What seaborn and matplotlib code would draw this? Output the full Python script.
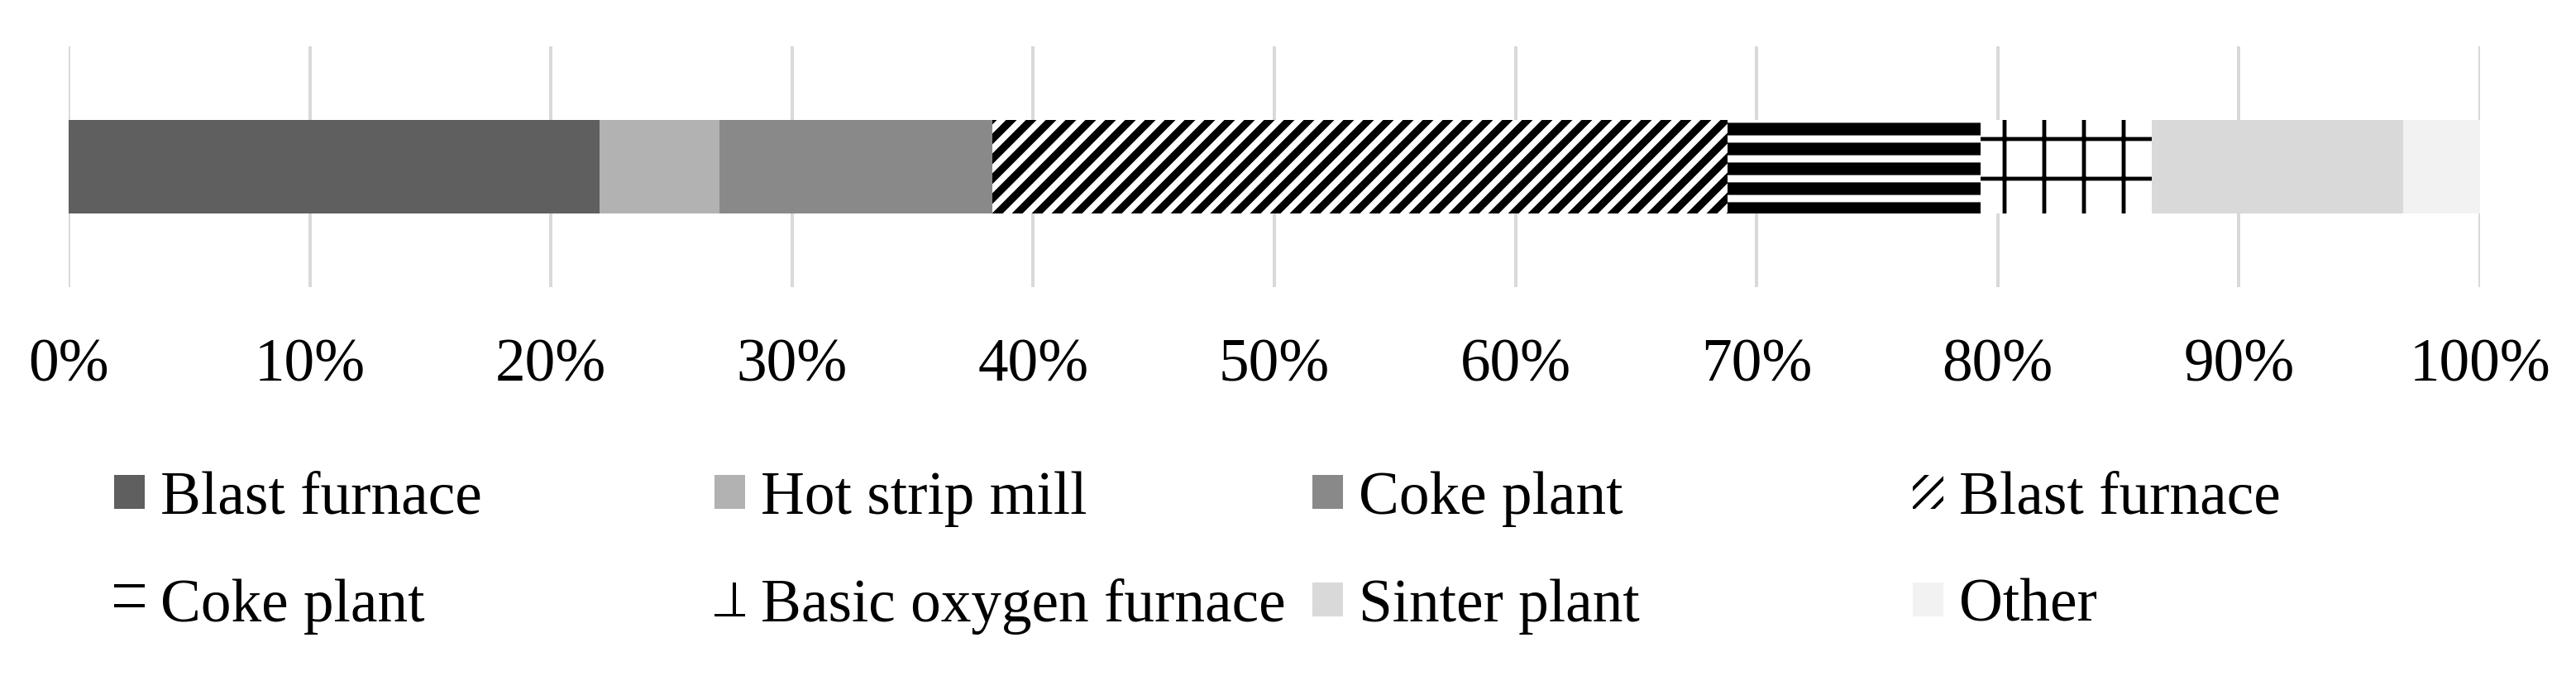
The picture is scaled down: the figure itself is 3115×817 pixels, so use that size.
import pandas as pd
import seaborn as sns
import matplotlib.pyplot as plt
import numpy as np
from matplotlib.patches import Patch

# Share of each source in the total (percent), left to right along the bar
sources = ['Blast furnace', 'Hot strip mill', 'Coke plant', 'Blast furnace',
           'Coke plant', 'Basic oxygen furnace', 'Sinter plant', 'Other']
shares = [22.0, 5.0, 11.3, 30.5, 10.5, 7.1, 10.4, 3.2]
ticks = [0, 10, 20, 30, 40, 50, 60, 70, 80, 90, 100]
tick_labels = [f'{t}%' for t in ticks]

# look of each segment (solid greys, then black-on-white patterns)
fills = ['#5f5f5f', '#b2b2b2', '#898989', 'white', 'white', 'white', '#d9d9d9', '#f2f2f2']
hatches = [None, None, None, '////', '--', '+', None, None]
hatch_lw = [1.0, 1.0, 1.0, 2.3, 3.8, 1.2, 1.0, 1.0]

DPI = 288
sns.set_theme(style='whitegrid')
plt.rcParams['font.family'] = ['Liberation Serif', 'DejaVu Serif']
FS = 18.3

fig = plt.figure(figsize=(3115 / DPI, 817 / DPI), dpi=DPI)
ax = fig.add_axes([83 / 3115, 1 - 347 / 817, (2999 - 83) / 3115, (347 - 56) / 817])

# stacked bar: draw running totals longest first, each one covers the previous
ends = np.cumsum(shares)
ends[-1] = 100.0
for i in reversed(range(len(sources))):
    df = pd.DataFrame({'share': [ends[i]], 'row': ['all']})
    with plt.rc_context({'hatch.linewidth': hatch_lw[i]}):
        sns.barplot(data=df, x='share', y='row', orient='h', color=fills[i],
                    saturation=1, width=0.39, errorbar=None, ax=ax,
                    hatch=hatches[i], linewidth=0,
                    edgecolor='black' if hatches[i] else fills[i])
    bar = ax.patches[-1]
    if hasattr(bar, 'set_hatch_linewidth'):
        bar.set_hatch_linewidth(hatch_lw[i])

ax.set_xlim(0, 100)
ax.set_xticks(ticks)
ax.set_xticklabels(tick_labels)
ax.set_yticks([])
ax.set_xlabel('')
ax.set_ylabel('')
ax.set_axisbelow(True)
ax.xaxis.grid(True, color='#d9d9d9', linewidth=1.0)
ax.yaxis.grid(False)
for s in ax.spines.values():
    s.set_visible(False)
ax.tick_params(axis='x', length=0, pad=15.5, labelsize=FS, colors='black')
ax.set_facecolor('white')

# legend: 4 equal-width columns, 2 rows (Excel style)
col_x = [138, 864, 1587, 2313]
for c in range(4):
    handles = []
    for i in (c, c + 4):
        p = Patch(facecolor=fills[i], hatch=hatches[i], linewidth=0,
                  edgecolor='black' if hatches[i] else fills[i], label=sources[i])
        if hasattr(p, 'set_hatch_linewidth'):
            p.set_hatch_linewidth(hatch_lw[i])
        handles.append(p)
    fig.legend(handles=handles, loc='center left',
               bbox_to_anchor=(col_x[c] / 3115, 1 - 668 / 817),
               frameon=False, fontsize=FS, borderpad=0, borderaxespad=0,
               handlelength=0.51, handleheight=0.48, handletextpad=0.25,
               labelspacing=0.85, labelcolor='black')

fig.savefig('out.png', dpi=DPI, facecolor='white')
